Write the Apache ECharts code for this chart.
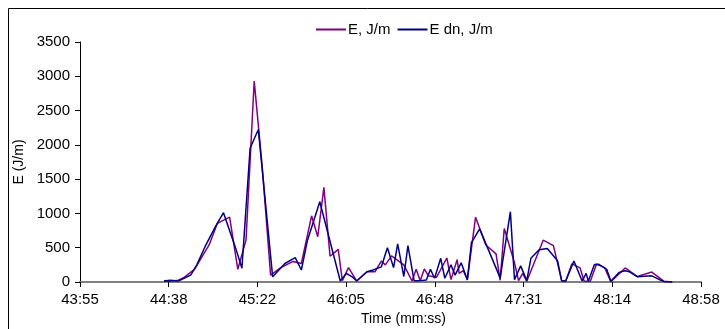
<!DOCTYPE html>
<html>
<head>
<meta charset="utf-8">
<script src="https://cdn.jsdelivr.net/npm/echarts@6/dist/echarts.min.js"></script>
<style>
html,body{margin:0;padding:0;background:#fff;}
#chart{width:725px;height:329px;}
</style>
</head>
<body>
<div id="chart"></div>
<script>
// Tick labels of the time axis (mm:ss)
const tickLabels = ["43:55","44:38","45:22","46:05","46:48","47:31","48:14","48:58"];
const axisStart = "43:55";
const axisEnd = "48:58";

// Series E, J/m : sample times and values
const eTimes = ["44:36","44:39","44:43","44:46","44:51","44:58","45:02","45:08","45:12","45:16",
  "45:20","45:24","45:28","45:33","45:39","45:43","45:48","45:51","45:54","45:57",
  "46:01","46:03","46:06","46:10","46:15","46:19","46:22","46:24","46:27","46:33",
  "46:37","46:39","46:41","46:43","46:45","46:49","46:54","46:56","46:59","47:00",
  "47:02","47:04","47:08","47:13","47:18","47:20","47:22","47:27","47:29","47:31",
  "47:33","47:41","47:46","47:50","47:52","47:55","47:59","48:01","48:04","48:07",
  "48:11","48:14","48:21","48:27","48:34","48:40","48:44"];
const eValues = [15,10,25,70,190,540,855,945,185,610,
  2930,1650,100,210,300,270,965,660,1380,375,
  475,20,210,15,150,150,305,250,380,250,
  15,185,20,190,90,70,350,35,325,125,
  165,35,945,540,410,25,780,280,20,125,
  10,610,530,20,15,265,205,10,10,260,
  210,5,205,80,145,10,0];

// Series E dn, J/m : sample times and values
const eDnTimes = ["44:36","44:39","44:43","44:49","44:52","44:56","45:01","45:05","45:11","45:14",
  "45:18","45:22","45:29","45:35","45:40","45:43","45:46","45:52","46:02","46:05",
  "46:08","46:10","46:15","46:18","46:22","46:25","46:28","46:30","46:33","46:35",
  "46:38","46:41","46:44","46:46","46:48","46:51","46:53","46:56","46:58","47:01",
  "47:04","47:06","47:10","47:20","47:25","47:27","47:28","47:30","47:33","47:35",
  "47:39","47:43","47:48","47:50","47:52","47:56","48:00","48:02","48:03","48:06",
  "48:08","48:12","48:14","48:18","48:21","48:23","48:27","48:34","48:38","48:40","48:44"];
const eDnValues = [15,25,15,100,250,515,805,1010,490,200,
  1950,2225,75,270,355,175,610,1170,15,125,
  70,15,150,175,220,500,210,555,80,530,
  20,20,30,185,55,345,55,250,100,280,
  30,575,775,60,1025,35,100,235,20,345,
  470,490,310,20,15,305,15,125,10,255,
  260,185,10,140,165,150,75,90,30,5,0];

const yTicks = [0,500,1000,1500,2000,2500,3000,3500];

function toSec(s){const p=s.split(":");return (+p[0])*60+(+p[1]);}
const t0 = toSec(axisStart), t1 = toSec(axisEnd);
const step = (t1 - t0) / (tickLabels.length - 1);
// position on the axis measured in tick steps
function pos(s){return (toSec(s) - t0) / step;}

const eData = eTimes.map((t,i)=>[pos(t), eValues[i]]);
const eDnData = eDnTimes.map((t,i)=>[pos(t), eDnValues[i]]);

const font = '"Liberation Sans", Arial, sans-serif';
const chart = echarts.init(document.getElementById('chart'), null, {renderer:'canvas'});
chart.setOption({
  animation:false,
  backgroundColor:'#fff',
  graphic:[{
    type:'rect', shape:{x:8.5,y:8.5,width:740,height:340},
    style:{fill:'none',stroke:'#000',lineWidth:1}, silent:true, z:-1
  }],
  legend:{
    left:311, top:17,
    itemWidth:30, itemHeight:2, itemGap:7,
    icon:'rect',
    textStyle:{fontFamily:font,fontSize:15,color:'#000',padding:[0,0,0,-3]},
    data:['E, J/m','E dn, J/m']
  },
  grid:{left:80, right:24, top:42, bottom:47, containLabel:false, outerBoundsMode:'none'},
  xAxis:{
    type:'value', min:0, max:tickLabels.length-1, interval:1,
    name:'Time (mm:ss)', nameLocation:'middle', nameGap:28,
    nameTextStyle:{fontFamily:font,fontSize:14,color:'#000',padding:[0,0,0,26]},
    axisLine:{show:true,onZero:false,lineStyle:{color:'#808080',width:2}},
    axisTick:{show:true,length:5,lineStyle:{color:'#000',width:1}},
    axisLabel:{fontFamily:font,fontSize:15,color:'#000',margin:10,
      formatter:(v)=>tickLabels[Math.round(v)] ?? ''},
    splitLine:{show:false}
  },
  yAxis:{
    type:'value', min:yTicks[0], max:yTicks[yTicks.length-1], interval:500,
    name:'E (J/m)', nameLocation:'middle', nameGap:49, nameRotate:90,
    nameTextStyle:{fontFamily:font,fontSize:14,color:'#000'},
    axisLine:{show:true,lineStyle:{color:'#000',width:1}},
    axisTick:{show:true,length:5,lineStyle:{color:'#000'}},
    axisLabel:{fontFamily:font,fontSize:15,color:'#000',margin:10,
      formatter:(v)=>String(v)},
    splitLine:{show:false}
  },
  series:[
    {name:'E, J/m', type:'line', data:eData, symbol:'none',
     lineStyle:{color:'#800080',width:1.5}, itemStyle:{color:'#800080'}},
    {name:'E dn, J/m', type:'line', data:eDnData, symbol:'none',
     lineStyle:{color:'#000080',width:1.5}, itemStyle:{color:'#000080'}}
  ]
});
</script>
</body>
</html>
